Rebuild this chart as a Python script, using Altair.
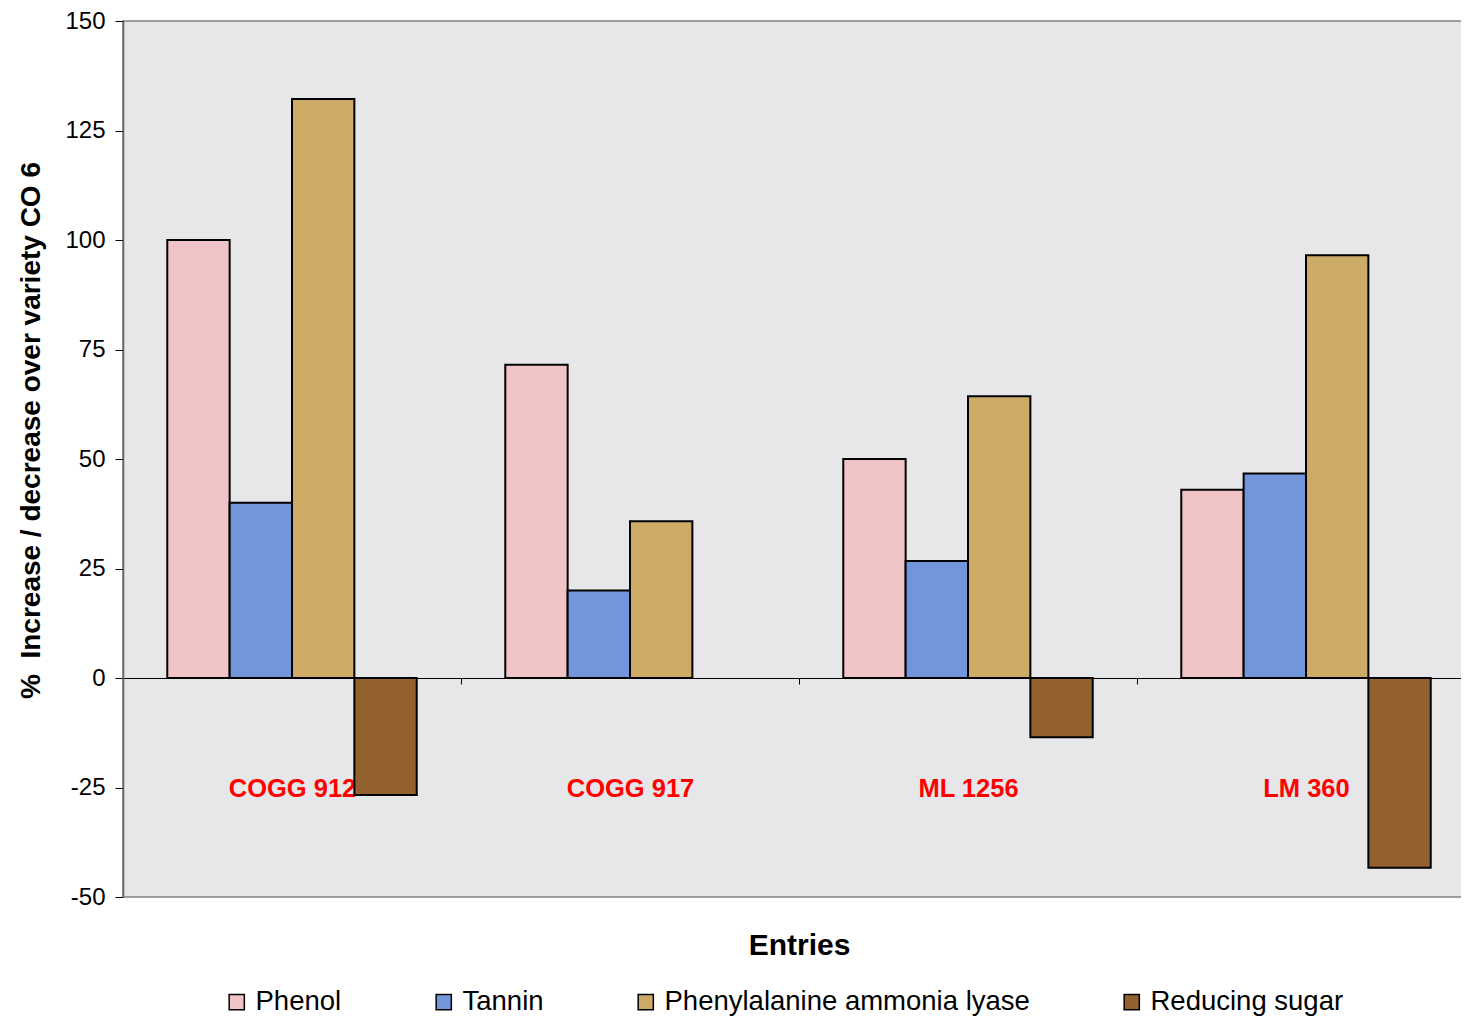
import altair as alt
import pandas as pd

entries = ["COGG 912", "COGG 917", "ML 1256", "LM 360"]
series = ["Phenol", "Tannin", "Phenylalanine ammonia lyase", "Reducing sugar"]
phenol = [100, 71.5, 50, 43]
tannin = [40, 20, 26.7, 46.7]
pal = [132.2, 35.8, 64.3, 96.5]
reducing_sugar = [-26.7, 0, -13.5, -43.3]
colors = ["#f0c4c6", "#7396da", "#cdab66", "#93602f"]
y_ticks = [-50, -25, 0, 25, 50, 75, 100, 125, 150]

rows = []
for name, vals in zip(series, [phenol, tannin, pal, reducing_sugar]):
    for e, v in zip(entries, vals):
        if v != 0:
            rows.append({"entry": e, "series": name, "value": v})
df = pd.DataFrame(rows)

W = 1352
H = 876
FONT = "Liberation Sans"

bars = alt.Chart(df).mark_bar(stroke="black", strokeWidth=2).encode(
    x=alt.X(
        "entry:N",
        sort=entries,
        scale=alt.Scale(domain=entries, paddingInner=0, paddingOuter=0),
        axis=alt.Axis(
            title="Entries",
            orient="bottom",
            offset=-(H * 0.25),
            labelAngle=0,
            labelColor="#ff0000",
            labelFontWeight="bold",
            labelFontSize=25.5,
            labelBaseline="middle",
            labelPadding=104,
            tickBand="extent",
            tickSize=6,
            tickColor="black",
            domainColor="black",
            domainWidth=1,
            titleFontSize=30,
            titleFontWeight="bold",
            titleColor="black",
            titleY=267,
            titleBaseline="middle",
        ),
    ),
    xOffset=alt.XOffset(
        "series:N",
        sort=series,
        scale=alt.Scale(domain=series, paddingInner=0, paddingOuter=0.71),
    ),
    y=alt.Y(
        "value:Q",
        scale=alt.Scale(domain=[-50, 150], nice=False, zero=False),
        axis=alt.Axis(
            title="%\u00a0 Increase / decrease over variety CO 6",
            values=y_ticks,
            labelExpr="'' + datum.value",
            grid=False,
            labelFontSize=24,
            labelColor="black",
            labelPadding=10,
            tickSize=8,
            tickColor="black",
            domainColor="#606060",
            domainWidth=1.5,
            titleFontSize=28,
            titleFontWeight="bold",
            titleColor="black",
            titleX=-92,
            titleY=409,
            titleBaseline="middle",
        ),
    ),
    color=alt.Color(
        "series:N",
        sort=series,
        scale=alt.Scale(domain=series, range=colors),
        legend=alt.Legend(
            title=None,
            orient="none",
            direction="horizontal",
            columns=4,
            legendX=100,
            legendY=967,
            columnPadding=88,
            labelFontSize=27.5,
            labelColor="black",
            labelOffset=5,
            labelLimit=800,
            symbolType="square",
            symbolSize=230,
            symbolStrokeColor="black",
            symbolStrokeWidth=1.5,
            symbolOpacity=1,
            padding=0,
        ),
    ),
)

chart = bars.properties(
    width=W,
    height=H,
    autosize=alt.AutoSizeParams(type="none"),
    padding={"left": 115, "top": 13, "right": -14, "bottom": 120},
    background="white",
).configure(
    font=FONT,
).configure_view(
    fill="#e7e7e9",
    stroke="#808080",
    strokeWidth=1.5,
)

chart.save("out.html", embed_options={"renderer": "svg", "actions": False})
